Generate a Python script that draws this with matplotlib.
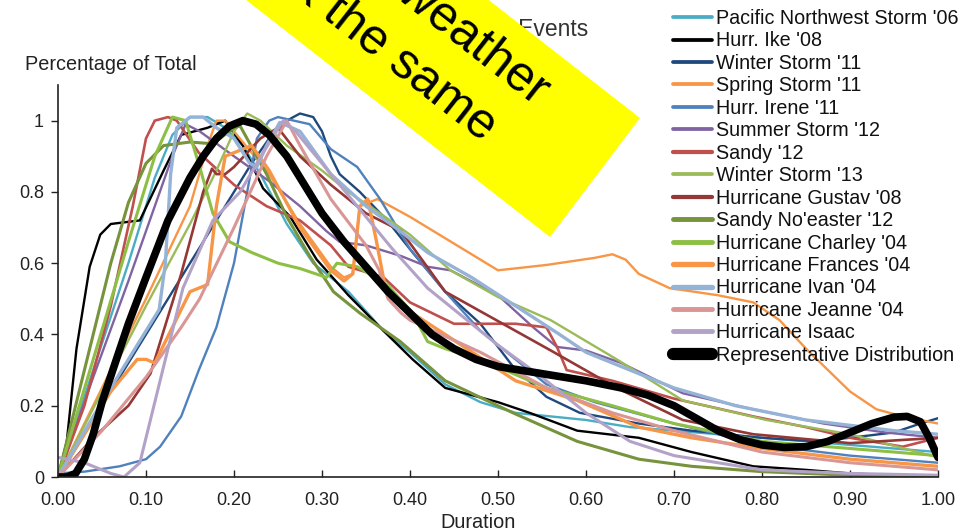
import matplotlib
matplotlib.use("Agg")
import matplotlib.pyplot as plt
from matplotlib.patches import Polygon
import numpy as np

plt.rcParams['font.family'] = ['Liberation Sans', 'DejaVu Sans']

# figure size in pixels
W, H = 973, 531

# ---- data (x = normalised duration, y = share of peak) ----
names = ["Pacific Northwest Storm '06", "Hurr. Ike '08", "Winter Storm '11", "Spring Storm '11",
         "Hurr. Irene '11", "Summer Storm '12", "Sandy '12", "Winter Storm '13",
         "Hurricane Gustav '08", "Sandy No'easter '12", "Hurricane Charley '04",
         "Hurricane Frances '04", "Hurricane Ivan '04", "Hurricane Jeanne '04", "Hurricane Isaac",
         "Representative Distribution"]

x_pnw = [0, 0.04, 0.08, 0.11, 0.13, 0.15, 0.17, 0.19, 0.21, 0.23, 0.26, 0.29, 0.33, 0.37, 0.40, 0.44,
         0.48, 0.52, 0.56, 0.60, 0.65, 0.70, 0.75, 0.80, 0.85, 0.90, 0.95, 1.0]
y_pnw = [0.0, 0.3, 0.6, 0.84, 0.96, 1.01, 1.01, 0.98, 0.93, 0.85, 0.71, 0.60, 0.52, 0.41, 0.35, 0.26,
         0.21, 0.18, 0.17, 0.16, 0.14, 0.13, 0.12, 0.11, 0.10, 0.09, 0.08, 0.07]

x_ike = [0, 0.01, 0.021, 0.036, 0.048, 0.06, 0.093, 0.12, 0.14, 0.17, 0.19, 0.21, 0.233, 0.264, 0.294,
         0.33, 0.37, 0.403, 0.44, 0.50, 0.536, 0.59, 0.66, 0.72, 0.79, 0.85, 0.90, 0.95, 1.0]
y_ike = [0, 0.1, 0.36, 0.59, 0.68, 0.71, 0.72, 0.86, 0.96, 0.98, 1.0, 0.93, 0.81, 0.73, 0.61,
         0.51, 0.41, 0.33, 0.25, 0.21, 0.18, 0.13, 0.11, 0.07, 0.03, 0.02, 0.01, 0.005, 0.0]

x_ws11 = [0, 0.05, 0.10, 0.15, 0.20, 0.22, 0.24, 0.26, 0.275, 0.29, 0.30, 0.31, 0.32, 0.343, 0.374,
          0.403, 0.44, 0.48, 0.517, 0.555, 0.593, 0.66, 0.72, 0.80, 0.86, 0.90, 0.95, 0.98, 1.0]
y_ws11 = [0, 0.2, 0.40, 0.60, 0.80, 0.88, 0.95, 1.0, 1.02, 1.01, 0.97, 0.90, 0.85, 0.80, 0.72,
          0.63, 0.52, 0.43, 0.31, 0.225, 0.18, 0.15, 0.13, 0.11, 0.10, 0.11, 0.125, 0.15, 0.165]

x_spring = [0, 0.05, 0.1, 0.15, 0.17, 0.18, 0.19, 0.2, 0.21, 0.24, 0.275, 0.31, 0.325, 0.335, 0.343,
            0.363, 0.40, 0.44, 0.48, 0.50, 0.555, 0.61, 0.63, 0.645, 0.66, 0.695, 0.75, 0.79, 0.82,
            0.85, 0.9, 0.93, 0.96, 1.0]
y_spring = [0, 0.25, 0.5, 0.76, 0.93, 1.0, 1.0, 0.97, 0.94, 0.85, 0.71, 0.59, 0.56, 0.57, 0.76,
            0.78, 0.73, 0.67, 0.61, 0.58, 0.595, 0.615, 0.625, 0.61, 0.57, 0.53, 0.51, 0.49, 0.44,
            0.36, 0.24, 0.19, 0.17, 0.15]

x_irene = [0, 0.03, 0.07, 0.1, 0.116, 0.14, 0.16, 0.18, 0.2, 0.215, 0.226, 0.24, 0.25, 0.286, 0.31,
           0.34, 0.366, 0.40, 0.44, 0.48, 0.52, 0.555, 0.61, 0.7, 0.8, 0.9, 1.0]
y_irene = [0.01, 0.015, 0.03, 0.05, 0.085, 0.17, 0.3, 0.42, 0.6, 0.8, 0.95, 1.0, 1.01, 0.99, 0.92,
           0.87, 0.78, 0.64, 0.52, 0.41, 0.33, 0.26, 0.21, 0.15, 0.09, 0.06, 0.04]

x_summer = [0, 0.04, 0.08, 0.11, 0.13, 0.145, 0.161, 0.2, 0.24, 0.275, 0.305, 0.32, 0.35, 0.39, 0.42,
            0.446, 0.5, 0.54, 0.567, 0.6, 0.64, 0.71, 0.79, 0.87, 0.94, 1.0]
y_summer = [0, 0.28, 0.55, 0.76, 0.9, 0.99, 0.97, 0.9, 0.83, 0.76, 0.69, 0.66, 0.65, 0.62, 0.59,
            0.58, 0.51, 0.42, 0.365, 0.355, 0.32, 0.235, 0.19, 0.15, 0.125, 0.11]

x_sandy = [0, 0.03, 0.06, 0.085, 0.1, 0.11, 0.125, 0.135, 0.16, 0.2, 0.237, 0.275, 0.31, 0.33, 0.37,
           0.40, 0.45, 0.52, 0.555, 0.567, 0.578, 0.63, 0.7, 0.79, 0.85, 0.9, 0.96, 1.0]
y_sandy = [0, 0.2, 0.48, 0.76, 0.95, 1.0, 1.01, 1.0, 0.91, 0.82, 0.76, 0.72, 0.65, 0.59, 0.56,
           0.49, 0.43, 0.43, 0.42, 0.365, 0.30, 0.27, 0.22, 0.17, 0.14, 0.11, 0.085, 0.11]

x_ws13 = [0, 0.05, 0.1, 0.15, 0.18, 0.2, 0.215, 0.23, 0.26, 0.3, 0.33, 0.366, 0.40, 0.446, 0.50,
          0.56, 0.635, 0.71, 0.805, 0.9, 1.0]
y_ws13 = [0, 0.24, 0.48, 0.71, 0.86, 0.97, 1.02, 1.0, 0.93, 0.86, 0.8, 0.74, 0.68, 0.58, 0.505,
          0.44, 0.33, 0.215, 0.16, 0.12, 0.055]

x_gustav = [0, 0.04, 0.08, 0.105, 0.14, 0.165, 0.175, 0.18, 0.19, 0.2, 0.23, 0.25, 0.275, 0.31,
            0.35, 0.39, 0.44, 0.52, 0.56, 0.635, 0.71, 0.79, 0.9, 1.0]
y_gustav = [0, 0.11, 0.2, 0.29, 0.57, 0.8, 0.865, 0.85, 0.85, 0.87, 0.95, 0.98, 0.9, 0.82,
            0.74, 0.69, 0.52, 0.41, 0.355, 0.25, 0.16, 0.12, 0.095, 0.11]

x_noreaster = [0, 0.03, 0.06, 0.08, 0.1, 0.12, 0.15, 0.176, 0.2, 0.207, 0.237, 0.26, 0.286, 0.313,
               0.343, 0.389, 0.44, 0.517, 0.59, 0.66, 0.72, 0.8, 0.9, 1.0]
y_noreaster = [0, 0.3, 0.6, 0.77, 0.88, 0.93, 0.94, 0.935, 0.98, 0.985, 0.85, 0.73, 0.62, 0.52,
               0.46, 0.38, 0.27, 0.18, 0.10, 0.05, 0.03, 0.015, 0.005, 0.0]

x_charley = [0, 0.04, 0.08, 0.11, 0.13, 0.145, 0.161, 0.176, 0.195, 0.22, 0.25, 0.275, 0.305, 0.317,
             0.34, 0.374, 0.403, 0.42, 0.44, 0.48, 0.555, 0.63, 0.7, 0.8, 0.9, 1.0]
y_charley = [0, 0.33, 0.66, 0.9, 1.01, 1.0, 0.87, 0.74, 0.66, 0.63, 0.6, 0.585, 0.56, 0.60,
             0.59, 0.54, 0.46, 0.38, 0.36, 0.33, 0.25, 0.2, 0.15, 0.1, 0.08, 0.06]

x_frances = [0, 0.03, 0.06, 0.09, 0.1, 0.11, 0.13, 0.15, 0.17, 0.18, 0.19, 0.2, 0.22, 0.24, 0.275,
             0.31, 0.325, 0.335, 0.343, 0.352, 0.362, 0.372, 0.39, 0.44, 0.52, 0.59, 0.66, 0.72,
             0.8, 0.9, 1.0]
y_frances = [0, 0.12, 0.24, 0.33, 0.33, 0.32, 0.42, 0.52, 0.54, 0.76, 0.9, 0.91, 0.93, 0.86, 0.70,
             0.58, 0.55, 0.57, 0.76, 0.78, 0.66, 0.53, 0.48, 0.40, 0.27, 0.215, 0.14, 0.11,
             0.08, 0.05, 0.03]

x_ivan = [0, 0.04, 0.08, 0.115, 0.122, 0.128, 0.135, 0.15, 0.165, 0.18, 0.2, 0.218, 0.226, 0.237,
          0.252, 0.275, 0.31, 0.35, 0.389, 0.42, 0.47, 0.52, 0.57, 0.6, 0.65, 0.7, 0.77, 0.85, 0.95, 1.0]
y_ivan = [0, 0.17, 0.33, 0.47, 0.6, 0.85, 0.98, 1.01, 1.01, 0.98, 0.95, 0.88, 0.87, 0.93,
          0.995, 0.97, 0.85, 0.76, 0.69, 0.63, 0.56, 0.48, 0.40, 0.35, 0.3, 0.25, 0.2, 0.16, 0.13, 0.12]

x_jeanne = [0, 0.05, 0.1, 0.14, 0.161, 0.2, 0.237, 0.26, 0.275, 0.31, 0.35, 0.365, 0.375, 0.39,
            0.40, 0.48, 0.555, 0.63, 0.7, 0.8, 0.9, 1.0]
y_jeanne = [0, 0.13, 0.28, 0.42, 0.5, 0.7, 0.9, 1.0, 0.93, 0.78, 0.65, 0.58, 0.5, 0.46,
            0.44, 0.35, 0.25, 0.18, 0.13, 0.07, 0.04, 0.02]

x_isaac = [0, 0.03, 0.06, 0.075, 0.093, 0.116, 0.142, 0.176, 0.207, 0.233, 0.256, 0.27, 0.3, 0.34,
           0.38, 0.42, 0.46, 0.5, 0.55, 0.6, 0.65, 0.7, 0.8, 0.9, 1.0]
y_isaac = [0.055, 0.04, 0.01, 0.0, 0.04, 0.27, 0.53, 0.72, 0.80, 0.91, 1.0, 0.97, 0.88, 0.76,
           0.64, 0.53, 0.45, 0.37, 0.28, 0.18, 0.1, 0.06, 0.02, 0.01, 0.005]

x_rep = [0, 0.01, 0.02, 0.03, 0.04, 0.05, 0.065, 0.08, 0.10, 0.125, 0.15, 0.165, 0.18, 0.195, 0.21,
         0.225, 0.24, 0.26, 0.28, 0.30, 0.325, 0.35, 0.375, 0.40, 0.425, 0.45, 0.475, 0.50, 0.55,
         0.60, 0.64, 0.67, 0.70, 0.725, 0.75, 0.775, 0.80, 0.825, 0.85, 0.875, 0.90, 0.925, 0.95,
         0.965, 0.98, 0.99, 1.0]
y_rep = [0, 0.0, 0.01, 0.05, 0.12, 0.21, 0.32, 0.43, 0.56, 0.72, 0.84, 0.90, 0.95, 0.985, 1.0,
         0.99, 0.96, 0.90, 0.82, 0.74, 0.66, 0.59, 0.52, 0.46, 0.40, 0.36, 0.33, 0.31, 0.29,
         0.27, 0.25, 0.23, 0.20, 0.165, 0.13, 0.105, 0.09, 0.083, 0.085, 0.1, 0.125, 0.15, 0.168,
         0.17, 0.155, 0.11, 0.055]

xs = [x_pnw, x_ike, x_ws11, x_spring, x_irene, x_summer, x_sandy, x_ws13, x_gustav, x_noreaster,
      x_charley, x_frances, x_ivan, x_jeanne, x_isaac, x_rep]
ys = [y_pnw, y_ike, y_ws11, y_spring, y_irene, y_summer, y_sandy, y_ws13, y_gustav, y_noreaster,
      y_charley, y_frances, y_ivan, y_jeanne, y_isaac, y_rep]

colors = ['#4BACC6', '#000000', '#1F497D', '#F79646', '#4F81BD', '#8064A2', '#C0504D', '#9BBB59',
          '#953735', '#77933C', '#8DBF45', '#F79646', '#95B3D7', '#D99694', '#B3A2C7', '#000000']
widths = [1.7, 1.7, 1.7, 1.7, 1.7, 1.7, 1.9, 1.7, 1.9, 2.2, 2.2, 2.4, 2.4, 2.2, 2.2, 5.5]

xticks = [0.0, 0.1, 0.2, 0.3, 0.4, 0.5, 0.6, 0.7, 0.8, 0.9, 1.0]
yticks = [0, 0.2, 0.4, 0.6, 0.8, 1.0]
ytick_labels = ['0', '0.2', '0.4', '0.6', '0.8', '1']


def fpx(x, y):
    # pixel position (from top-left) -> figure fraction
    return (x / W, 1 - y / H)


fig = plt.figure(figsize=(W / 100, H / 100), dpi=100)
ax = fig.add_axes([58 / W, (H - 477) / H, 880 / W, 392 / H])

lines = []
for x, y, c, lw in zip(xs, ys, colors, widths):
    ln, = ax.plot(x, y, color=c, lw=lw, solid_joinstyle='round', solid_capstyle='round')
    lines.append(ln)

ax.set_xlim(0, 1)
ax.set_ylim(0, 1.1)
ax.set_xticks(xticks)
ax.set_xticklabels(['%.2f' % v for v in xticks])
ax.set_yticks(yticks)
ax.set_yticklabels(ytick_labels)
ax.tick_params(axis='x', direction='in', length=5, width=1, pad=11, labelsize=13, colors='#222222')
ax.tick_params(axis='y', direction='out', length=5, width=1, pad=5, labelsize=13, colors='#222222')
for s in ['top', 'right']:
    ax.spines[s].set_visible(False)
for s in ['left', 'bottom']:
    ax.spines[s].set_linewidth(1.2)
    ax.spines[s].set_color('#222222')

fig.text(*fpx(25, 65), 'Percentage of Total', fontsize=14.3, va='center', ha='left', color='#222222')
fig.text(*fpx(478, 522), 'Duration', fontsize=14.3, va='center', ha='center', color='#222222')
fig.text(*fpx(588, 30), 'Duration of Weather Events', fontsize=16.5, va='center', ha='right',
         color='#333333')

leg = fig.legend(lines, names, loc='upper left', bbox_to_anchor=fpx(673, 9), frameon=False,
                 fontsize=14.2, handlelength=2.0, handletextpad=0.2, labelspacing=0.175,
                 borderaxespad=0, borderpad=0)
for hl, lw in zip(leg.get_lines(), widths):
    hl.set_linewidth(lw * 1.6)
for t in leg.get_texts():
    t.set_color('#111111')

# yellow banner across the title
ang = np.deg2rad(37.95)
d = np.array([np.cos(ang), np.sin(ang)])  # along banner, pointing down-right in pixel space
c1 = np.array([640, 118])
c2 = np.array([550, 237])
far = 700
corners = [c1, c2, c2 - far * d, c1 - far * d]
banner = Polygon([fpx(*p) for p in corners], closed=True, transform=fig.transFigure,
                 facecolor='#FFFF00', edgecolor='none', zorder=10)
fig.add_artist(banner)

fig.text(*fpx(543, 96), 'All weather', fontsize=36, rotation=-37.95, rotation_mode='anchor',
         ha='right', va='center', zorder=11, color='black')
fig.text(*fpx(491, 132), 'events look the same', fontsize=36, rotation=-37.95, rotation_mode='anchor',
         ha='right', va='center', zorder=11, color='black')

fig.savefig('out.png', dpi=100)
